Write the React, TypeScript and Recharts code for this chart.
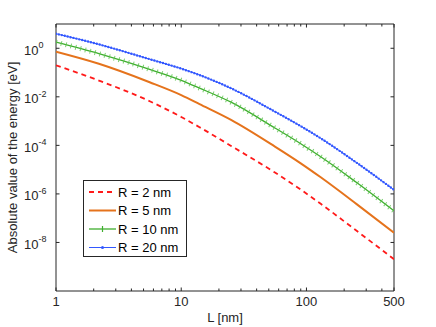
import React from 'react';
import { Legend, Line, LineChart, ReferenceArea, XAxis, YAxis } from 'recharts';

// L in nm, energies in eV
const lengths = [1, 2.2, 5.6, 10, 14, 25, 56, 90, 130, 250, 500];
const energyR2 = [0.2, 0.0468, 6.6e-3, 1.48e-3, 5.6e-4, 9.5e-5, 7.6e-6, 1.51e-6, 3.9e-7, 3.1e-8, 2.04e-9];
const energyR5 = [0.72, 0.229, 0.0398, 0.01175, 5.0e-3, 1.12e-3, 8.9e-5, 1.82e-5, 4.83e-6, 3.9e-7, 2.5e-8];
const energyR10 = [1.78, 0.6, 0.135, 0.048, 0.0229, 6.0e-3, 5.2e-4, 1.17e-4, 3.4e-5, 3.0e-6, 2.0e-7];
const energyR20 = [3.98, 1.45, 0.355, 0.145, 0.079, 0.0224, 2.45e-3, 6.2e-4, 1.95e-4, 1.97e-5, 1.47e-6];

const xTicks = [1, 2, 3, 4, 5, 6, 7, 8, 9, 10, 20, 30, 40, 50, 60, 70, 80, 90, 100, 200, 300, 400, 500];
const xLabels = [1, 10, 100, 500];
const yTicks = [1e-8, 1e-6, 1e-4, 1e-2, 1];

const data = lengths.map((L, i) => ({
  L,
  r2: energyR2[i],
  r5: energyR5[i],
  r10: energyR10[i],
  r20: energyR20[i],
}));

const series = [
  { key: 'r2', name: 'R = 2 nm', color: '#ff1a1a', width: 1.8, dash: '5 4' },
  { key: 'r5', name: 'R = 5 nm', color: '#e5731c', width: 2 },
  { key: 'r10', name: 'R = 10 nm', color: '#3fae2e', width: 1.3, marker: 'plus' },
  { key: 'r20', name: 'R = 20 nm', color: '#3358ff', width: 1, marker: 'dot' },
];

const W = 436;
const H = 327;
const TOP = 24;
const RIGHT = 42;
const LEFT = 56;
const BOTTOM = 36;
const PLOT_RIGHT = W - RIGHT;
const AXIS = '#262626';
const FONT = '"Liberation Sans", Arial, sans-serif';

const XTick = (props: any) => {
  const { x, y, payload } = props;
  const v = payload.value;
  const major = xLabels.includes(v);
  const len = major ? 3.5 : 2.5;
  return (
    <g>
      <line x1={x} x2={x} y1={y} y2={y - len} stroke={AXIS} />
      <line x1={x} x2={x} y1={TOP} y2={TOP + len} stroke={AXIS} />
      {major && (
        <text x={x} y={y + 15} textAnchor="middle" fontSize={13} fill={AXIS} fontFamily={FONT}>
          {v}
        </text>
      )}
    </g>
  );
};

const YTick = (props: any) => {
  const { x, y, payload } = props;
  const exp = Math.round(Math.log10(payload.value));
  return (
    <g>
      <line x1={x} x2={x + 3.5} y1={y} y2={y} stroke={AXIS} />
      <line x1={PLOT_RIGHT} x2={PLOT_RIGHT - 3.5} y1={y} y2={y} stroke={AXIS} />
      <text x={x - 32} y={y + 6.5} fontSize={13} fill={AXIS} fontFamily={FONT}>
        <tspan>10</tspan>
        <tspan dy={-6.5} fontSize={9}>
          {String(exp)}
        </tspan>
      </text>
    </g>
  );
};

const renderLegend = () => (
  <div
    style={{
      width: 104,
      height: 77,
      border: `1px solid ${AXIS}`,
      background: '#fff',
      boxSizing: 'border-box',
    }}
  >
    <svg width={102} height={75} style={{ display: 'block' }}>
      {series.map((s, i) => {
        const cy = 11 + i * 18.5;
        return (
          <g key={s.key}>
            <line
              x1={5}
              x2={32}
              y1={cy}
              y2={cy}
              stroke={s.color}
              strokeWidth={s.width}
              strokeDasharray={s.dash}
            />
            {s.marker === 'plus' && (
              <line x1={18.5} x2={18.5} y1={cy - 3} y2={cy + 3} stroke={s.color} strokeWidth={1.2} />
            )}
            {s.marker === 'dot' && <circle cx={18.5} cy={cy} r={1.5} fill={s.color} />}
            <text x={34} y={cy + 4.5} fontSize={13} fill="#000" fontFamily={FONT}>
              {s.name}
            </text>
          </g>
        );
      })}
    </svg>
  </div>
);

export default function App() {
  return (
    <div style={{ position: 'absolute', left: 0, top: 0, width: W, height: H, background: '#fff' }}>
      <LineChart width={W} height={H} data={data} margin={{ top: TOP, right: RIGHT, bottom: 0, left: 0 }}>
        <XAxis
          dataKey="L"
          type="number"
          scale="log"
          domain={[1, 500]}
          ticks={xTicks}
          interval={0}
          height={BOTTOM}
          tickSize={0}
          tickMargin={0}
          axisLine={false}
          tickLine={false}
          tick={<XTick />}
          allowDataOverflow
          label={{
            content: ({ viewBox }: any) => (
              <text
                x={viewBox.x + viewBox.width / 2}
                y={viewBox.y + 31}
                textAnchor="middle"
                fontSize={13}
                fill={AXIS}
                fontFamily={FONT}
              >
                L [nm]
              </text>
            ),
          }}
        />
        <YAxis
          type="number"
          scale="log"
          domain={[1e-10, 10]}
          ticks={yTicks}
          interval={0}
          width={LEFT}
          tickSize={0}
          tickMargin={0}
          axisLine={false}
          tickLine={false}
          tick={<YTick />}
          allowDataOverflow
          label={{
            content: ({ viewBox }: any) => {
              const cx = 16.5;
              const cy = viewBox.y + viewBox.height / 2;
              return (
                <text
                  x={cx}
                  y={cy}
                  transform={`rotate(-90, ${cx}, ${cy})`}
                  textAnchor="middle"
                  fontSize={13}
                  fill={AXIS}
                  fontFamily={FONT}
                >
                  Absolute value of the energy [eV]
                </text>
              );
            },
          }}
        />
        <ReferenceArea x1={1} x2={500} y1={1e-10} y2={10} fill="none" stroke={AXIS} strokeWidth={1} />
        {series.map((s) => (
          <Line
            key={s.key}
            dataKey={s.key}
            name={s.name}
            type="monotone"
            stroke={s.color}
            strokeWidth={s.width}
            strokeDasharray={s.dash}
            dot={false}
            activeDot={false}
            isAnimationActive={false}
          />
        ))}
        <Line
          dataKey="r10"
          type="monotone"
          stroke="#5cc24f"
          strokeWidth={5}
          strokeDasharray="1 4"
          strokeOpacity={0.8}
          dot={false}
          activeDot={false}
          legendType="none"
          isAnimationActive={false}
        />
        <Line
          dataKey="r20"
          type="monotone"
          stroke="#3358ff"
          strokeWidth={2.4}
          strokeLinecap="round"
          strokeDasharray="0 3"
          dot={false}
          activeDot={false}
          legendType="none"
          isAnimationActive={false}
        />
        <Legend
          layout="vertical"
          align="center"
          verticalAlign="middle"
          wrapperStyle={{ left: 83, top: 180, width: 104, height: 77 }}
          content={renderLegend}
        />
      </LineChart>
    </div>
  );
}
